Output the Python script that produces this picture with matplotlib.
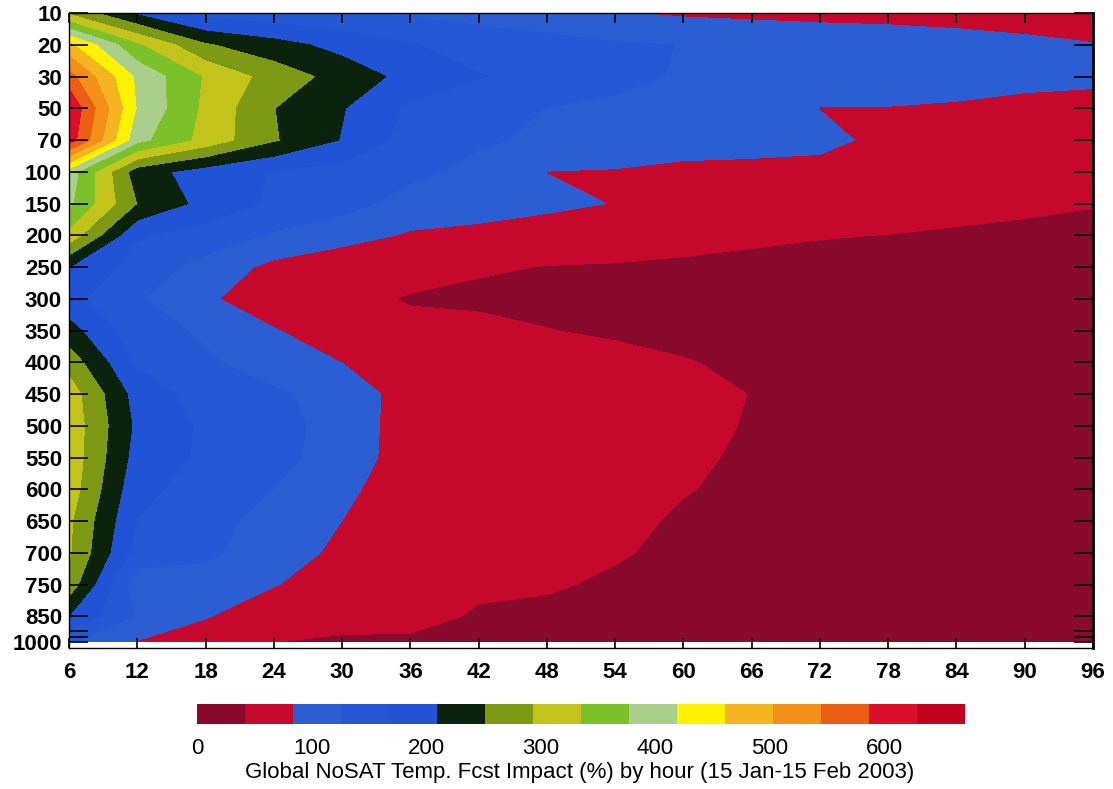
import numpy as np
import matplotlib
matplotlib.use("Agg")
import matplotlib.pyplot as plt

plt.rcParams['font.family'] = ['Liberation Sans', 'DejaVu Sans']

# --- Data ---
hours = [6, 12, 18, 24, 30, 36, 42, 48, 54, 60, 66, 72, 78, 84, 90, 96]
levels = [10, 20, 30, 50, 70, 100, 150, 200, 250, 300, 350,
          400, 450, 500, 550, 600, 650, 700, 750, 850, 1000]

# impact (%) per pressure level (rows) and forecast hour (columns)
impact = [
    [285, 202, 150, 140, 130, 120, 110, 100, 85.5, 78, 75, 72, 70, 65, 62, 60],      # 10
    [470, 340, 255, 225, 195, 170, 150, 140, 130, 125, 115, 110, 107, 103, 94, 85.5],  # 20
    [560, 410, 330, 275, 235, 195, 170, 150, 140, 120, 110, 100, 95, 97, 98, 100],    # 30
    [625, 415, 325, 252, 212, 160, 140, 125, 115, 105, 100, 83, 83, 80, 70, 57],      # 50
    [610, 390, 320, 255, 207, 150, 130, 120, 110, 100, 100, 95, 72.5, 68, 62, 55],    # 70
    [400, 228, 190, 165, 150, 135, 115, 83, 81, 75, 72, 70, 66, 62, 58, 54],          # 100
    [385, 250, 195, 160, 140, 110, 100, 95, 82, 65, 60, 58, 55, 52, 48, 44],          # 150
    [320, 172, 150, 120, 100, 79, 74, 59, 54, 50, 46, 43, 41.5, 38, 35, 30],          # 200
    [210, 150, 110, 73, 55, 60, 45, 41, 40, 38, 36, 35, 34, 33, 32, 30],              # 250
    [180, 130, 90, 60, 56, 38, 36, 36, 35, 34, 33, 32, 31, 30, 30, 29],               # 300
    [225, 141, 120, 86, 60, 55, 50, 42.5, 38, 36, 34, 33, 32, 31, 30, 29],            # 350
    [275, 160, 130, 110, 83, 62, 55, 50, 50, 43, 38, 36, 34, 32, 31, 30],             # 400
    [315, 191, 150, 130, 115, 60, 55, 52, 52, 53, 41, 38, 36, 34, 32, 31],            # 450
    [320, 200, 160, 135, 115, 58, 52, 50, 50, 49, 40, 37, 35, 33, 32, 31],            # 500
    [320, 192, 160, 135, 112, 58, 52, 50, 48, 46.4, 38, 36, 35, 33, 32, 31],          # 550
    [315, 179, 150, 125, 95, 55, 50, 48, 46, 43.3, 36, 35, 34, 33, 32, 31],           # 600
    [300, 166, 140, 110, 83.5, 55, 52, 50, 49.4, 38, 35, 34, 33, 32, 31, 30],         # 650
    [298, 150, 130, 113, 70, 55, 50, 48, 44.3, 36, 35, 34, 33, 32, 31, 30],           # 700
    [275, 100, 115, 86, 60, 52, 48, 44.6, 38, 35, 34, 33, 32, 31, 30, 30],            # 750
    [208, 120, 86.6, 55, 52, 53.6, 38, 36, 35, 34, 33, 32, 31, 30, 30, 30],           # 850
    [130, 82, 60, 42.3, 38, 36, 35, 34, 33, 32, 31, 30, 30, 30, 30, 30],              # 1000
]

cbar_ticks = [0, 100, 200, 300, 400, 500, 600]
colors = ['#8a0a2e', '#c6082c', '#2a5ed2', '#2558d4', '#2053d6', '#0b220c',
          '#7e9a14', '#c2c41c', '#7cc02a', '#aacf8a', '#fff200', '#f4b520',
          '#f2901a', '#ec5e14', '#dc0f2a', '#c0021e']
bounds = np.linspace(0, 670, len(colors) + 1)

# --- Layout ---
y_pos = np.arange(len(levels), dtype=float)
y_pos[-1] = 19.8   # 1000 hPa sits closer to 850

fig = plt.figure(figsize=(11.13, 7.89), dpi=100)
ax = fig.add_axes([0.062, 0.1787, 0.920, 0.8048])

cf = ax.contourf(hours, y_pos, np.array(impact), levels=bounds, colors=colors)

ax.set_xlim(6, 96)
ax.set_ylim(20.0, 0)
ax.set_xticks(hours)
ax.set_xticklabels([str(h) for h in hours])
ax.set_yticks(y_pos)
ax.set_yticklabels([str(p) for p in levels])
ax.set_yticks([19.45, 19.65], minor=True)

ax.tick_params(axis='y', which='both', direction='in', length=14, width=1.2,
               left=True, right=True, labelsize=16, pad=5)
ax.tick_params(axis='x', direction='in', length=7, width=1.2, top=True,
               labelsize=16, pad=10)
for lab in ax.get_xticklabels() + ax.get_yticklabels():
    lab.set_fontweight('bold')
for side in ['left', 'right', 'top', 'bottom']:
    ax.spines[side].set_linewidth(1.0)
ax.spines['right'].set_linewidth(2.0)

# --- Colorbar ---
cax = fig.add_axes([0.177, 0.0824, 0.690, 0.0253])
cb = fig.colorbar(cf, cax=cax, orientation='horizontal')
cb.set_ticks(cbar_ticks)
cb.set_ticklabels([str(t) for t in cbar_ticks])
cb.ax.tick_params(length=0, pad=10, labelsize=16)
cb.outline.set_visible(False)

fig.text(0.521, 0.0215,
         'Global NoSAT Temp. Fcst Impact (%) by hour (15 Jan-15 Feb 2003)',
         ha='center', va='center', fontsize=16)

fig.savefig('out.png', dpi=100)
